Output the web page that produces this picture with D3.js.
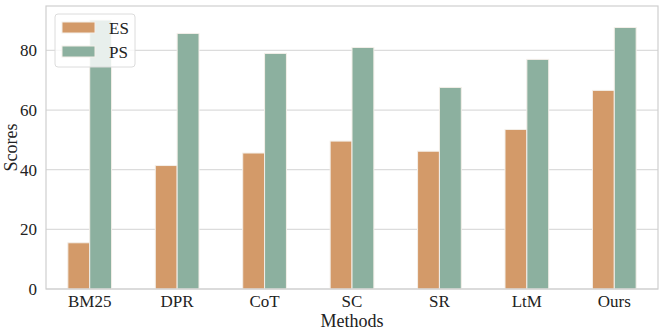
<!DOCTYPE html>
<html lang="en">
<head>
<meta charset="UTF-8">
<title>Scores by method</title>
<script src="https://d3js.org/d3.v7.min.js"></script>
<style>
  body { margin: 0; background: #fff; }
  text { font-family: "Liberation Serif", "Times New Roman", serif; fill: #222; }
</style>
</head>
<body>
<script>
const methods = ["BM25", "DPR", "CoT", "SC", "SR", "LtM", "Ours"];
const seriesNames = ["ES", "PS"];
const esScores = [15.5, 41.4, 45.6, 49.6, 46.2, 53.5, 66.6];
const psScores = [90.2, 85.7, 79.0, 81.0, 67.6, 77.0, 87.7];
const yTicks = [0, 20, 40, 60, 80];
const colors = ["#d39a69", "#8cb09f"];

const W = 664, H = 332;
const margin = {top: 6, right: 6, bottom: 43, left: 46};
const iw = W - margin.left - margin.right;
const ih = H - margin.top - margin.bottom;

const svg = d3.select("body").append("svg")
    .attr("width", W)
    .attr("height", H);

const g = svg.append("g").attr("transform", `translate(${margin.left},${margin.top})`);

const x = d3.scaleBand().domain(methods).range([0, iw]).paddingInner(0.5).paddingOuter(0.25);
const xs = d3.scaleBand().domain(seriesNames).range([0, x.bandwidth()]);
const y = d3.scaleLinear().domain([0, 94.9]).range([ih, 0]);

// grid
g.append("g").selectAll("line")
    .data(yTicks)
    .enter().append("line")
    .attr("x1", 0).attr("x2", iw)
    .attr("y1", d => y(d)).attr("y2", d => y(d))
    .attr("stroke", "#dcdcdc")
    .attr("stroke-width", 1.2);

// bars
const rows = methods.map((m, i) => ({m, vals: [esScores[i], psScores[i]]}));
const grp = g.append("g").selectAll("g")
    .data(rows)
    .enter().append("g")
    .attr("transform", d => `translate(${x(d.m)},0)`);

grp.selectAll("rect")
    .data(d => d.vals.map((v, k) => ({k, v})))
    .enter().append("rect")
    .attr("x", d => xs(seriesNames[d.k]))
    .attr("width", xs.bandwidth())
    .attr("y", d => y(d.v))
    .attr("height", d => ih - y(d.v))
    .attr("fill", d => colors[d.k])
    .attr("stroke", "#f4efe9")
    .attr("stroke-width", 1);

// frame
g.append("rect")
    .attr("width", iw).attr("height", ih)
    .attr("fill", "none")
    .attr("stroke", "#cfcfcf")
    .attr("stroke-width", 1.2);

// y ticks
g.append("g").selectAll("text")
    .data(yTicks)
    .enter().append("text")
    .attr("x", -9)
    .attr("y", d => y(d))
    .attr("dy", "0.35em")
    .attr("text-anchor", "end")
    .attr("font-size", "17px")
    .text(d => d);

// x ticks
g.append("g").selectAll("text")
    .data(methods)
    .enter().append("text")
    .attr("x", d => x(d) + x.bandwidth() / 2)
    .attr("y", ih + 18)
    .attr("text-anchor", "middle")
    .attr("font-size", "17px")
    .text(d => d);

// axis titles
svg.append("text")
    .attr("x", margin.left + iw / 2)
    .attr("y", H - 5)
    .attr("text-anchor", "middle")
    .attr("font-size", "18px")
    .text("Methods");

svg.append("text")
    .attr("transform", `translate(17,${margin.top + ih / 2}) rotate(-90)`)
    .attr("text-anchor", "middle")
    .attr("font-size", "18px")
    .text("Scores");

// legend
const lg = g.append("g").attr("transform", "translate(9,8)");
lg.append("rect")
    .attr("width", 80).attr("height", 53)
    .attr("rx", 3)
    .attr("fill", "#fff").attr("fill-opacity", 0.8)
    .attr("stroke", "#dcdcdc");
seriesNames.forEach((s, i) => {
    lg.append("rect")
        .attr("x", 7).attr("y", 8 + i * 24)
        .attr("width", 33).attr("height", 11)
        .attr("fill", colors[i])
        .attr("stroke", "#f4efe9");
    lg.append("text")
        .attr("x", 54).attr("y", 14 + i * 24)
        .attr("dy", "0.35em")
        .attr("font-size", "17px")
        .text(s);
});
</script>
</body>
</html>
